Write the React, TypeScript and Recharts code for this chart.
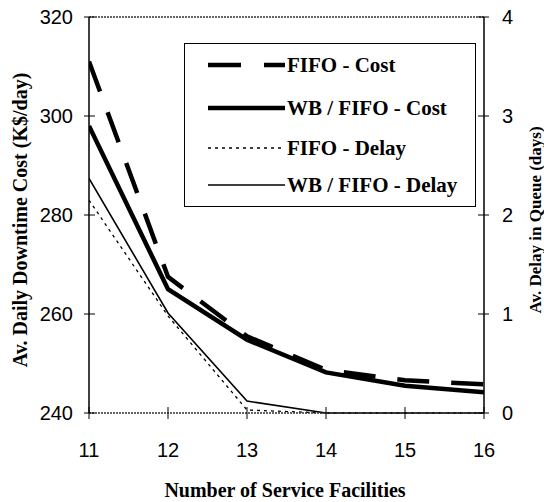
import { Legend, Line, LineChart, ReferenceLine, XAxis, YAxis } from "recharts";

const facilities = [11, 12, 13, 14, 15, 16];
const fifoCost = [311, 267.5, 255.5, 248.7, 246.6, 245.8];
const wbFifoCost = [298, 265, 254.8, 248.2, 245.5, 244.2];
const fifoDelay = [2.15, 0.98, 0.03, 0, 0, 0];
const wbFifoDelay = [2.37, 1.01, 0.12, 0, 0, 0];

const costTicks = [240, 260, 280, 300, 320];
const delayTicks = [0, 1, 2, 3, 4];

const xTitle = "Number of Service Facilities";
const costTitle = "Av. Daily Downtime Cost (K$/day)";
const delayTitle = "Av. Delay in Queue (days)";

const series = [
  { key: "fifoCost", label: "FIFO - Cost", axis: "cost", width: 4.5, dash: "32 22" },
  { key: "wbFifoCost", label: "WB / FIFO - Cost", axis: "cost", width: 4.5, dash: undefined },
  { key: "fifoDelay", label: "FIFO - Delay", axis: "delay", width: 1.3, dash: "3 4" },
  { key: "wbFifoDelay", label: "WB / FIFO - Delay", axis: "delay", width: 1.6, dash: undefined },
];

const data = facilities.map((n, i) => ({
  n,
  fifoCost: fifoCost[i],
  wbFifoCost: wbFifoCost[i],
  fifoDelay: fifoDelay[i],
  wbFifoDelay: wbFifoDelay[i],
}));

// chart is pinned to the page corner so these are page pixels
const W = 544;
const H = 502;
const PL = 89;
const PR = 484;
const PT = 17;
const PB = 413;

const serif = "'Liberation Serif', 'Times New Roman', serif";
const sans = "'Liberation Sans', Arial, sans-serif";

function LeftTick({ y, payload }: any) {
  return (
    <g>
      <line x1={PL - 5} x2={PL + 6} y1={y} y2={y} stroke="#000" strokeWidth={1} />
      <text x={PL - 16} y={y} textAnchor="end" dominantBaseline="central" fontFamily={sans} fontSize={20} fill="#000">
        {payload.value}
      </text>
    </g>
  );
}

function RightTick({ y, payload }: any) {
  return (
    <g>
      <line x1={PR - 6} x2={PR + 5} y1={y} y2={y} stroke="#000" strokeWidth={1} />
      <text x={PR + 18} y={y} textAnchor="start" dominantBaseline="central" fontFamily={sans} fontSize={20} fill="#000">
        {payload.value}
      </text>
    </g>
  );
}

function BottomTick({ x, payload }: any) {
  return (
    <g>
      <line x1={x} x2={x} y1={PB - 6} y2={PB + 6} stroke="#000" strokeWidth={1} />
      <text x={x} y={PB + 37} textAnchor="middle" dominantBaseline="central" fontFamily={sans} fontSize={20} fill="#000">
        {payload.value}
      </text>
    </g>
  );
}

// recharts overrides x / y / angle on label elements, so use own names
function Title({ text, cx, cy, turn, size }: any) {
  return (
    <text
      x={cx}
      y={cy}
      transform={turn ? `rotate(${turn} ${cx} ${cy})` : undefined}
      textAnchor="middle"
      dominantBaseline="central"
      fontFamily={serif}
      fontWeight="bold"
      fontSize={size}
      fill="#000"
    >
      {text}
    </text>
  );
}

function LegendBox() {
  const rows = [22, 65, 105, 142];
  return (
    <svg width={292} height={164} style={{ display: "block" }}>
      <rect x={0.5} y={0.5} width={291} height={163} fill="#fff" stroke="#000" strokeWidth={1} />
      {series.map((s, i) => (
        <g key={s.key}>
          <line
            x1={24}
            x2={101}
            y1={rows[i]}
            y2={rows[i]}
            stroke="#000"
            strokeWidth={s.width}
            strokeDasharray={s.key === "fifoCost" ? "33 23" : s.dash}
          />
          <text x={103} y={rows[i]} dominantBaseline="central" fontFamily={serif} fontWeight="bold" fontSize={21} fill="#000">
            {s.label}
          </text>
        </g>
      ))}
    </svg>
  );
}

export default function App() {
  return (
    <div style={{ position: "absolute", left: 0, top: 0, width: W, height: H, overflow: "hidden", background: "#fff" }}>
      <LineChart width={W} height={H} data={data} margin={{ top: PT, right: 0, bottom: 0, left: 0 }}>
        <XAxis
          dataKey="n"
          type="number"
          domain={[11, 16]}
          ticks={facilities}
          height={H - PB}
          axisLine={{ stroke: "#333", strokeWidth: 1.5, strokeDasharray: "2 1" }}
          tickLine={false}
          tick={<BottomTick />}
          label={<Title text={xTitle} cx={285} cy={490} size={20} />}
          allowDataOverflow
        />
        <YAxis
          yAxisId="cost"
          orientation="left"
          width={PL}
          domain={[240, 320]}
          ticks={costTicks}
          axisLine={{ stroke: "#000", strokeWidth: 1.5 }}
          tickLine={false}
          tick={<LeftTick />}
          label={<Title text={costTitle} cx={20} cy={220} turn={-90} size={20} />}
        />
        <YAxis
          yAxisId="delay"
          orientation="right"
          width={W - PR}
          domain={[0, 4]}
          ticks={delayTicks}
          axisLine={{ stroke: "#000", strokeWidth: 1.5 }}
          tickLine={false}
          tick={<RightTick />}
          label={<Title text={delayTitle} cx={535} cy={220} turn={-90} size={17} />}
        />
        <ReferenceLine yAxisId="cost" y={320} stroke="#333" strokeWidth={1.5} strokeDasharray="2 1" />
        {series.map((s) => (
          <Line
            key={s.key}
            yAxisId={s.axis}
            dataKey={s.key}
            type="linear"
            stroke="#000"
            strokeWidth={s.width}
            strokeDasharray={s.dash}
            dot={false}
            activeDot={false}
            isAnimationActive={false}
          />
        ))}
        <Legend
          layout="vertical"
          verticalAlign="middle"
          align="center"
          wrapperStyle={{ left: 184, top: 43, width: 292, height: 164 }}
          content={() => <LegendBox />}
        />
      </LineChart>
    </div>
  );
}
